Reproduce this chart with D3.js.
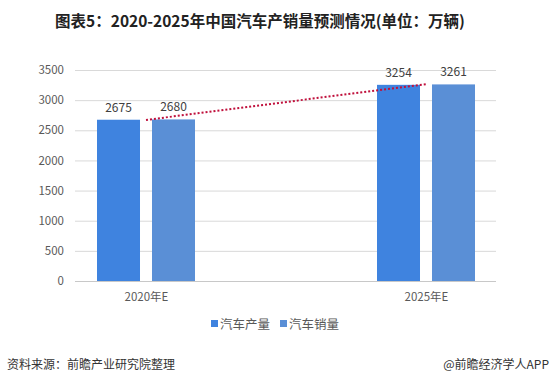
<!DOCTYPE html>
<html><head><meta charset="utf-8">
<script src="https://cdn.jsdelivr.net/npm/d3@7/dist/d3.min.js"></script>
<style>
body{margin:0;background:#fff;}
text{font-family:"Microsoft YaHei","Noto Sans CJK SC",sans-serif;}
</style></head>
<body><svg id="c" width="554" height="386"></svg>
<script>
const categories = ["2020年E", "2025年E"];
const seriesNames = ["汽车产量", "汽车销量"];
const production = [2675, 3254];
const sales = [2680, 3261];
const trend = [2672, 3266];
const yTicks = [0, 500, 1000, 1500, 2000, 2500, 3000, 3500];
const colors = ["#3F83DF", "#5A8FD6"];

const svg = d3.select("#c");
svg.append("rect").attr("width",554).attr("height",386).attr("fill","#fff");

svg.append("text").attr("x",260).attr("y",27).attr("text-anchor","middle")
  .attr("font-size",15.5).attr("font-weight","bold").attr("fill","#222")
  .text("图表5：2020-2025年中国汽车产销量预测情况(单位：万辆)");

const y = d3.scaleLinear().domain([0,3500]).range([281,70]);
const x = d3.scalePoint().domain(categories).range([146,426]);
const inner = d3.scaleBand().domain(seriesNames).range([-49,49]).paddingInner(0.218);

// gridlines
svg.append("g").selectAll("line").data(yTicks).join("line")
  .attr("x1",75).attr("x2",496).attr("y1",d=>y(d)+0.5).attr("y2",d=>y(d)+0.5)
  .attr("stroke",d=>d===0?"#c8c8c8":"#d9d9d9").attr("stroke-width",1);

// y axis labels
const yAxis = d3.axisLeft(y).tickValues(yTicks).tickFormat(d3.format("d")).tickSize(0).tickPadding(0);
const ga = svg.append("g").attr("transform","translate(64,0)").call(yAxis);
ga.select(".domain").remove();
ga.selectAll("text").attr("font-size",11.5).attr("fill","#595959");

// bars
const data = [production, sales];
data.forEach((vals,si)=>{
  svg.append("g").selectAll("rect").data(vals).join("rect")
    .attr("x",(d,i)=>x(categories[i])+inner(seriesNames[si]))
    .attr("width",inner.bandwidth())
    .attr("y",d=>y(d)).attr("height",d=>y(0)-y(d))
    .attr("fill",colors[si]);
  svg.append("g").selectAll("text").data(vals).join("text")
    .attr("x",(d,i)=>x(categories[i])+inner(seriesNames[si])+inner.bandwidth()/2)
    .attr("y",d=>y(d)-8).attr("text-anchor","middle")
    .attr("font-size",12).attr("fill","#404040").text(d=>d);
});

// trend line
const line = d3.line().x((d,i)=>x(categories[i])).y(d=>y(d));
svg.append("path").datum(trend).attr("d",line).attr("fill","none")
  .attr("stroke","#C0103C").attr("stroke-width",2).attr("stroke-dasharray","2,2");

// x axis labels
const xAxis = d3.axisBottom(x).tickSize(0).tickPadding(0);
const gx = svg.append("g").attr("transform","translate(0,300)").call(xAxis);
gx.select(".domain").remove();
gx.selectAll("text").attr("font-size",11.5).attr("fill","#595959").attr("dy","0.1em");

// legend
const leg = svg.append("g");
const lx = [211, 280];
seriesNames.forEach((n,i)=>{
  leg.append("rect").attr("x",lx[i]).attr("y",320).attr("width",7).attr("height",7).attr("fill",colors[i]);
  leg.append("text").attr("x",lx[i]+9).attr("y",328.5).attr("font-size",12.5).attr("fill","#595959").text(n);
});

// footer
svg.append("text").attr("x",7).attr("y",369).attr("font-size",12).attr("fill","#333")
  .text("资料来源：前瞻产业研究院整理");
svg.append("text").attr("x",549).attr("y",369).attr("text-anchor","end").attr("font-size",12).attr("fill","#333")
  .text("@前瞻经济学人APP");
</script></body></html>
